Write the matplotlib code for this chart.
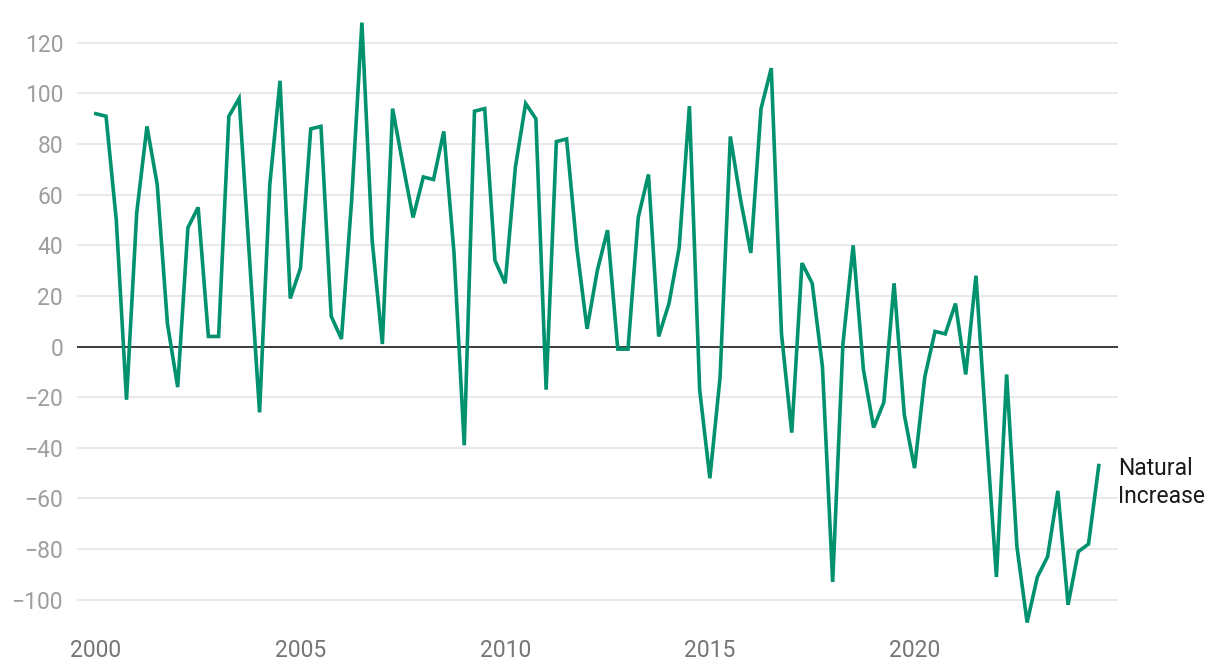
import numpy as np
import matplotlib
matplotlib.use("Agg")
from matplotlib import pyplot as plt

# Quarterly natural increase, 2000 Q1 to 2024 Q3
start_year = 2000
natural_increase = [
    92, 91, 50, -21, 53, 87, 64, 9, -16, 47, 55, 4, 4, 91, 98, 36,
    -26, 64, 105, 19, 31, 86, 87, 12, 3, 58, 128, 42, 1, 94, 72, 51,
    67, 66, 85, 37, -39, 93, 94, 34, 25, 71, 96, 90, -17, 81, 82, 39,
    7, 30, 46, -1, -1, 51, 68, 4, 17, 39, 95, -17, -52, -12, 83, 58,
    37, 94, 110, 5, -34, 33, 25, -8, -93, 1, 40, -9, -32, -22, 25, -27,
    -48, -12, 6, 5, 17, -11, 28, -33, -91, -11, -79, -109, -91, -83, -57, -102,
    -81, -78, -47,
]
year_ticks = [2000, 2005, 2010, 2015, 2020]
value_ticks = [-100, -80, -60, -40, -20, 0, 20, 40, 60, 80, 100, 120]
series_label = "Natural\nIncrease"

plt.rcParams['font.family'] = ['Roboto', 'DejaVu Sans']

fig = plt.figure(figsize=(12.2, 6.72), dpi=100)
ax = fig.add_axes([0.0631, 0.0699, 0.8533, 0.9078])

# x positions: one point per quarter
x = start_year + np.arange(len(natural_increase)) / 4

# light horizontal grid, black zero line
for v in value_ticks:
    if v == 0:
        ax.axhline(v, color="#1a1a1a", lw=1.2, zorder=2)
    else:
        ax.axhline(v, color="#e3e3e3", lw=1.1, zorder=1)

ax.plot(x, natural_increase, color="#00916e", lw=2.6, zorder=3,
        solid_joinstyle="miter")

# label at the end of the line
ax.annotate(series_label, xy=(x[-1], natural_increase[-1]),
            xytext=(14, -12), textcoords="offset points",
            ha="left", va="center", fontsize=16.5, color="#1a1a1a",
            linespacing=1.3, annotation_clip=False)

ax.set_xlim(1999.54, 2024.97)
ax.set_ylim(-110, 131)
ax.set_xticks(year_ticks)
ax.set_yticks(value_ticks)
ax.tick_params(axis="x", length=0, pad=10, labelsize=16.5, labelcolor="#757575")
ax.tick_params(axis="y", length=0, pad=10, labelsize=16.5, labelcolor="#9e9e9e")

for s in ax.spines.values():
    s.set_visible(False)

fig.savefig("out.png", dpi=100)
